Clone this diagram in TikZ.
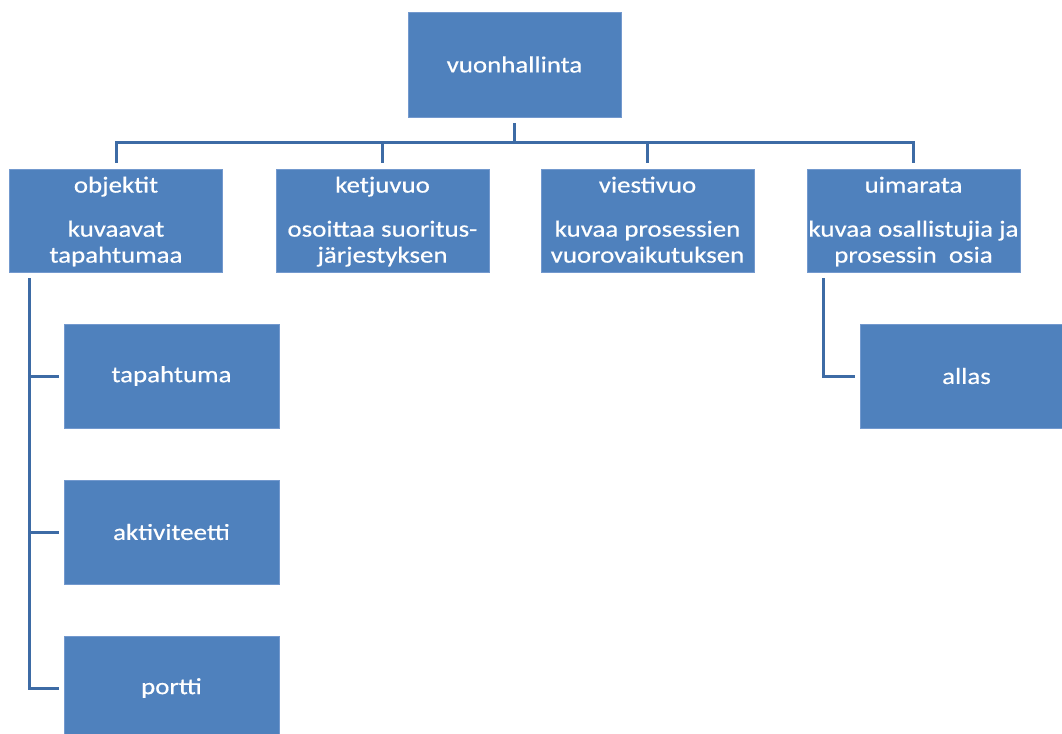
\documentclass[tikz,border=0pt]{standalone}
\usepackage{fontspec}
\setmainfont{Carlito}[FakeStretch=1.17,FakeBold=0.5]
\usetikzlibrary{calc}
\definecolor{boxblue}{HTML}{4F81BD}
\definecolor{boxedge}{HTML}{7399CE}
\definecolor{linkblue}{HTML}{3D6BA5}
% struts for the three-line labels: a taller one on top lowers the block a little
\newcommand\firstln{\rule{0pt}{22pt}}
\newcommand\lastln{\rule[-7.8pt]{0pt}{7.8pt}}
\begin{document}
\begin{tikzpicture}[x=1pt,y=-1pt,
  box/.style={rectangle, fill=boxblue, draw=boxedge, line width=0.8pt,
    minimum width=213pt, minimum height=103pt, inner sep=0pt,
    align=center, text=white, font=\fontsize{23}{26}\selectfont},
  conn/.style={draw=linkblue, line width=3pt, line join=miter}]
\useasboundingbox (0,0) rectangle (1062,733);

% root
\node[box, minimum height=105pt] (root) at (514.5,64.5) {vuonhallinta};

% second level
\node[box] (b1) at (116,220.5)
  {\firstln objektit\\[18pt]kuvaavat\\tapahtumaa\lastln};
\node[box] (b2) at (382.5,220.5)
  {\firstln ketjuvuo\\[18pt]osoittaa suoritus-\\järjestyksen\lastln};
\node[box] (b3) at (647.5,220.5)
  {\firstln viestivuo\\[18pt]kuvaa prosessien\\vuorovaikutuksen\lastln};
\node[box] (b4) at (913.5,220.5)
  {\firstln uimarata\\[18pt]kuvaa osallistujia ja\\prosessin~~osia\lastln};

% third level
\node[box, minimum width=215pt, minimum height=104pt] (c1) at (171.5,376) {tapahtuma};
\node[box, minimum width=215pt, minimum height=104pt] (c2) at (171.5,532) {aktiviteetti};
\node[box, minimum width=215pt, minimum height=104pt] (c3) at (171.5,688) {portti};
\node[box, minimum height=104pt] (d1) at (966.5,376) {allas};

% root to second level
\coordinate (bus) at (0,142);
\draw[conn] ($(root.south)+(0,6)$) -- (root.south |- bus);
\draw[conn] ($(b1.north)+(0,-6)$) -- (b1.north |- bus) -- (b4.north |- bus)
  -- ($(b4.north)+(0,-6)$);
\foreach \b in {b2,b3}
  \draw[conn] (\b.north |- bus) -- ($(\b.north)+(0,-6)$);

% objektit children
\coordinate (lx) at ($(b1.south west)+(20,6)$);
\draw[conn] (lx) |- ($(c3.west)+(-5,0)$);
\foreach \c in {c1,c2}
  \draw[conn] (lx |- \c.west) -- ($(\c.west)+(-5,0)$);

% uimarata child
\coordinate (rx) at ($(b4.south west)+(17,6)$);
\draw[conn] (rx) |- ($(d1.west)+(-5,0)$);
\end{tikzpicture}
\end{document}
